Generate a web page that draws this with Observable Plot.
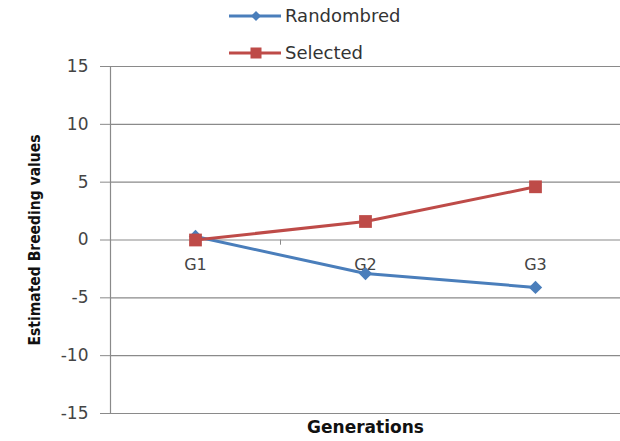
<!DOCTYPE html>
<html><head><meta charset="utf-8">
<script src="https://cdn.jsdelivr.net/npm/d3@7"></script>
<script src="https://cdn.jsdelivr.net/npm/@observablehq/plot@0.6"></script>
<style>
html,body{margin:0;padding:0;background:#fff;}
#wrap{position:relative;width:620px;height:441px;overflow:hidden;}
#wrap > svg{display:block;}
.leg{position:absolute;left:229px;height:20px;display:flex;align-items:center;font:18px "DejaVu Sans",sans-serif;color:#333;line-height:1;}
.leg svg{margin-right:4px;}
</style></head><body><div id="wrap"></div>
<script>
const generations = ["G1", "G2", "G3"];
const seriesNames = ["Randombred", "Selected"];
const randombred = [0.3, -2.9, -4.1];
const selected = [0, 1.6, 4.6];
const yTicks = [-15, -10, -5, 0, 5, 10, 15];
const colors = ["#4A7EBB", "#BE4B48"];
const symbols = ["diamond2", "square"];

const rows = [];
generations.forEach((g, i) => {
  rows.push({gen: g, pos: i + 0.5, series: seriesNames[0], value: randombred[i]});
});
generations.forEach((g, i) => {
  rows.push({gen: g, pos: i + 0.5, series: seriesNames[1], value: selected[i]});
});
const catPos = generations.map((g, i) => ({gen: g, pos: i + 0.5}));

const chart = Plot.plot({
  width: 620,
  height: 441,
  marginLeft: 110,
  marginRight: 0,
  marginTop: 66,
  marginBottom: 28,
  style: {background: "#fff", overflow: "visible"},
  x: {domain: [0, 3], axis: null},
  y: {domain: [-15, 15], axis: null},
  color: {domain: seriesNames, range: colors},
  symbol: {domain: seriesNames, range: symbols},
  marks: [
    Plot.ruleY(yTicks, {stroke: "#8a8a8a", strokeWidth: 1.2}),
    Plot.ruleX([0], {y1: -15, y2: 15, stroke: "#8a8a8a", strokeWidth: 1.2}),
    Plot.axisY({ticks: yTicks, tickSize: 10, tickPadding: 12, stroke: "#8a8a8a", label: null,
      fontSize: 17, fontFamily: "DejaVu Sans", fill: "#444", tickFormat: d => String(d)}),
    Plot.ruleX([1], {y1: 0, y2: -0.45, stroke: "#8a8a8a"}),
    Plot.text(catPos, {x: "pos", y: 0, text: "gen", dy: 25, fontSize: 16,
      fontFamily: "DejaVu Sans", fill: "#444"}),
    Plot.text(["Estimated Breeding values"], {frameAnchor: "left", textAnchor: "middle", dx: -75, rotate: -90,
      fontSize: 15.5, fontWeight: "bold", fontFamily: "DejaVu Sans Condensed", fill: "#111"}),
    Plot.text(["Generations"], {frameAnchor: "bottom", dy: 19, fontSize: 17,
      fontWeight: "bold", fontFamily: "DejaVu Sans", fill: "#111"}),
    Plot.line(rows, {x: "pos", y: "value", z: "series", stroke: "series", strokeWidth: 3}),
    Plot.dot(rows.filter(d => d.series === seriesNames[0]), {x: "pos", y: "value",
      fill: "series", symbol: "series", r: 6, stroke: "none"}),
    Plot.dot(rows.filter(d => d.series === seriesNames[1]), {x: "pos", y: "value",
      fill: "series", symbol: "series", r: 7.2, stroke: "none"})
  ]
});
const wrap = document.getElementById("wrap");
wrap.appendChild(chart);

// legend
const legendTops = [6, 43];
seriesNames.forEach((name, i) => {
  const div = document.createElement("div");
  div.className = "leg";
  div.style.top = legendTops[i] + "px";
  const marker = i === 0
    ? `<path d="M27,-5 L32,0 L27,5 L22,0 Z" fill="${colors[i]}"/>`
    : `<rect x="21.5" y="-5.5" width="11" height="11" fill="${colors[i]}"/>`;
  div.innerHTML = `<svg width="52" height="16" viewBox="0 -8 52 16"><line x1="0" x2="52" y1="0" y2="0" stroke="${colors[i]}" stroke-width="3"/>${marker}</svg><span>${name}</span>`;
  wrap.appendChild(div);
});
</script>
</body></html>
